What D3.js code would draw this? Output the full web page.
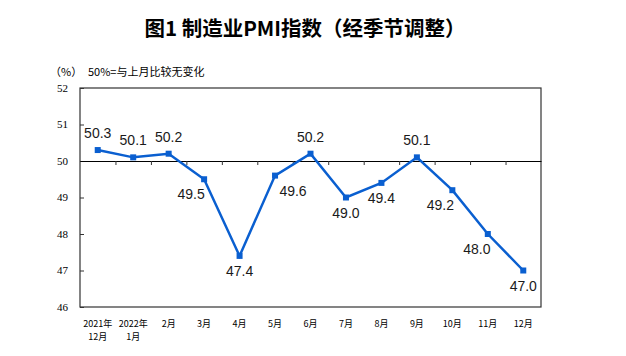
<!DOCTYPE html>
<html><head><meta charset="utf-8">
<script src="https://cdn.jsdelivr.net/npm/d3@7"></script>
<style>body{margin:0;background:#fff}svg{display:block}</style>
</head><body>
<script>
// ---- data ----
const categories = ["2021年\n12月","2022年\n1月","2月","3月","4月","5月","6月","7月","8月","9月","10月","11月","12月"];
const pmi = [50.3,50.1,50.2,49.5,47.4,49.6,50.2,49.0,49.4,50.1,49.2,48.0,47.0];
const yTicks = [46,47,48,49,50,51,52];
const title = "图1 制造业PMI指数（经季节调整）";
const unitText = "（%）";
const noteText = "50%=与上月比较无变化";

// ---- layout ----
const W = 626, H = 356;
const m = {left:80, right:85, top:88, bottom:49};
const labelDx = [0,0,0,-13,0,18,0,0,0,0,-12,-11,0];
const blue = "#0A5FD0";

const svg = d3.select("body").append("svg").attr("width",W).attr("height",H);

const x = d3.scaleBand().domain(d3.range(categories.length)).range([m.left, W-m.right]);
const y = d3.scaleLinear().domain([46,52]).range([H-m.bottom, m.top]);

svg.append("text").attr("x",305).attr("y",36).attr("text-anchor","middle")
  .attr("font-family","'Noto Sans CJK SC'").attr("font-weight","bold").attr("font-size",20.5)
  .attr("fill","#000").attr("xml:space","preserve").text(title);
svg.append("text").attr("x",50).attr("y",76).attr("font-family","'Noto Sans CJK SC'")
  .attr("font-size",11).attr("fill","#000").text(unitText);
svg.append("text").attr("x",88).attr("y",76).attr("font-family","'Noto Sans CJK SC'")
  .attr("font-size",11).attr("fill","#000").text(noteText);

// frame
svg.append("rect").attr("x",m.left).attr("y",m.top).attr("width",W-m.right-m.left)
  .attr("height",H-m.bottom-m.top).attr("fill","none").attr("stroke","#333").attr("stroke-width",1.2);

// y axis
const yAxis = svg.append("g").attr("transform",`translate(${m.left},0)`)
  .call(d3.axisRight(y).tickValues(yTicks).tickSize(4).tickFormat(""));
yAxis.select(".domain").remove();
yAxis.selectAll("line").attr("stroke","#333");
svg.append("g").selectAll("text").data(yTicks).join("text")
  .attr("x",m.left-12).attr("y",d=>y(d)).attr("dy","0.35em").attr("text-anchor","end")
  .attr("font-family","'Liberation Serif'").attr("font-size",11).attr("fill","#000").text(d=>d);

// 50 line with category ticks
const bx = d3.scaleLinear().domain([0,categories.length]).range([m.left, W-m.right]);
const xAxis = svg.append("g").attr("transform",`translate(0,${y(50)})`)
  .call(d3.axisBottom(bx).tickValues(d3.range(1,categories.length)).tickSize(4).tickFormat("").tickSizeOuter(0));
xAxis.select(".domain").attr("stroke","#000");
xAxis.selectAll("line").attr("stroke","#333");

// x labels
const xl = svg.append("g").selectAll("text").data(categories).join("text")
  .attr("x",(d,i)=>x(i)+x.bandwidth()/2).attr("y",H-m.bottom+20).attr("text-anchor","middle")
  .attr("font-family","'Noto Sans CJK SC'").attr("font-size",9).attr("fill","#000");
xl.each(function(d){
  const t=d3.select(this);
  d.split("\n").forEach((s,k)=>t.append("tspan").attr("x",t.attr("x")).attr("dy",k?13:0).text(s));
});

// line
const cx = i => x(i)+x.bandwidth()/2;
svg.append("path").datum(pmi)
  .attr("d", d3.line().x((d,i)=>cx(i)).y(d=>y(d)))
  .attr("fill","none").attr("stroke",blue).attr("stroke-width",2.5);
svg.append("g").selectAll("rect").data(pmi).join("rect")
  .attr("x",(d,i)=>cx(i)-3).attr("y",d=>y(d)-3).attr("width",6).attr("height",6).attr("fill",blue);

// labels
svg.append("g").selectAll("text").data(pmi).join("text")
  .attr("x",(d,i)=>cx(i)+labelDx[i]).attr("y",d=> d>=50 ? y(d)-12 : y(d)+20)
  .attr("text-anchor","middle").attr("font-family","'Liberation Sans'").attr("font-size",14)
  .attr("fill","#1a1a1a").text(d=>d.toFixed(1));
</script>
</body></html>
